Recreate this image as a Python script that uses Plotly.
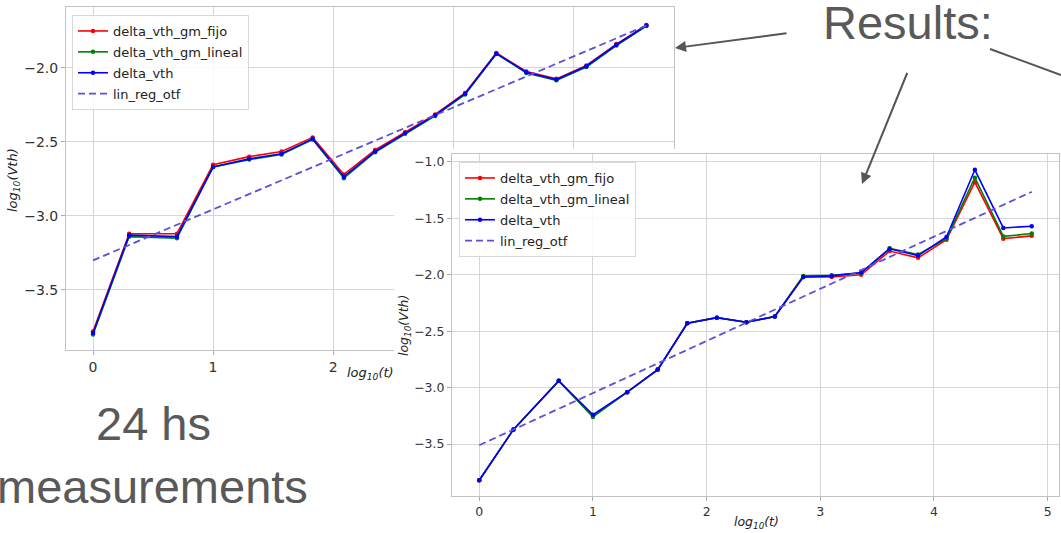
import plotly.graph_objects as go

W, H = 1061, 533

# ---------------- data ----------------
log_t = [0.0, 0.301, 0.699, 1.0, 1.301, 1.57, 1.83, 2.09, 2.35, 2.6,
         2.85, 3.1, 3.36, 3.61, 3.86, 4.11, 4.36, 4.61, 4.86]

# chart 1 (24 hs, first 18 samples)
c1_fijo   = [-3.78, -3.12, -3.12, -2.655, -2.60, -2.565, -2.47, -2.72, -2.555, -2.435,
             -2.315, -2.17, -1.90, -2.025, -2.075, -1.985, -1.84, -1.712]
c1_lineal = [-3.80, -3.14, -3.15, -2.67, -2.62, -2.585, -2.485, -2.745, -2.57, -2.445,
             -2.325, -2.18, -1.905, -2.035, -2.085, -1.995, -1.85, -1.718]
c1_vth    = [-3.79, -3.13, -3.14, -2.67, -2.615, -2.58, -2.48, -2.735, -2.565, -2.44,
             -2.32, -2.175, -1.905, -2.03, -2.08, -1.99, -1.845, -1.715]
c1_reg_x = [0.0, 4.61]
c1_reg_y = [-3.30, -1.715]

# chart 2 (all 19 samples)
c2_fijo   = [-3.82, -3.37, -2.94, -3.25, -3.04, -2.84, -2.43, -2.38, -2.42, -2.37,
             -2.02, -2.02, -2.00, -1.79, -1.85, -1.69, -1.18, -1.68, -1.655]
c2_lineal = [-3.82, -3.37, -2.94, -3.26, -3.04, -2.84, -2.43, -2.38, -2.42, -2.37,
             -2.01, -2.005, -1.985, -1.765, -1.82, -1.68, -1.14, -1.66, -1.635]
c2_vth    = [-3.82, -3.37, -2.94, -3.24, -3.04, -2.84, -2.43, -2.38, -2.42, -2.37,
             -2.02, -2.01, -1.98, -1.77, -1.83, -1.665, -1.07, -1.585, -1.57]
c2_reg_x = [0.0, 4.86]
c2_reg_y = [-3.51, -1.265]

series_names = ["delta_vth_gm_fijo", "delta_vth_gm_lineal", "delta_vth", "lin_reg_otf"]
series_colors = ["#ff0000", "#008000", "#0000ff", "#5b50d6"]

x1_range = [-0.225, 4.84]
y1_range = [-3.905, -1.59]
x2_range = [-0.24, 5.10]
y2_range = [-3.96, -0.93]

# ---------------- helpers ----------------
def px_x(p):
    return p / W

def px_y(p):
    return 1 - p / H

fig = go.Figure()

def add_chart(xa, ya, leg, prefix, series, n, reg_x, reg_y):
    for name, color, ys in zip(series_names[:3], series_colors[:3], series):
        fig.add_trace(go.Scatter(
            x=log_t[:n], y=ys, mode="lines+markers", name=name,
            line=dict(color=color, width=1.6),
            marker=dict(color=color, size=4.5),
            xaxis=xa, yaxis=ya, legend=leg, legendgroup=prefix + name,
        ))
    fig.add_trace(go.Scatter(
        x=reg_x, y=reg_y, mode="lines", name=series_names[3],
        line=dict(color=series_colors[3], width=1.8, dash="7px,4px"),
        xaxis=xa, yaxis=ya, legend=leg, legendgroup=prefix + series_names[3],
    ))

add_chart("x", "y", "legend", "c1_", [c1_fijo, c1_lineal, c1_vth], 18, c1_reg_x, c1_reg_y)

# white panel of the second screenshot, drawn in its own subplot layer
fig.add_trace(go.Scatter(
    x=[0, 1, 1, 0, 0], y=[0, 0, 1, 1, 0], mode="lines", fill="toself",
    fillcolor="white", line=dict(width=0, color="white"),
    hoverinfo="skip", showlegend=False, xaxis="x2", yaxis="y2",
))

add_chart("x3", "y3", "legend2", "c2_", [c2_fijo, c2_lineal, c2_vth], 19, c2_reg_x, c2_reg_y)

grid = "#d6d6d6"
spine = "#c2c2c2"
tickc = "#333333"

def axis(domain, rng, dtick, anchor, fs, fmt=None):
    d = dict(domain=domain, range=rng, dtick=dtick, tick0=0, anchor=anchor,
             showgrid=True, gridcolor=grid, gridwidth=1, zeroline=False,
             showline=True, mirror=True, linecolor=spine, linewidth=1,
             ticks="outside", ticklen=4, tickcolor="#aaaaaa",
             tickfont=dict(family="DejaVu Sans", size=fs, color=tickc),
             fixedrange=True)
    if fmt:
        d["tickformat"] = fmt
    return d

legend_common = dict(
    xanchor="left", yanchor="top", bgcolor="rgba(255,255,255,0.85)",
    bordercolor="#d8d8d8", borderwidth=1, traceorder="grouped", tracegroupgap=1,
    font=dict(family="DejaVu Sans", size=13, color="#222222"),
)

fig.update_layout(
    width=W, height=H, margin=dict(l=0, r=0, t=0, b=0),
    paper_bgcolor="white", plot_bgcolor="white", showlegend=True,
    xaxis=axis([px_x(66), px_x(674)], x1_range, 1, "y", 14),
    yaxis=axis([px_y(350), px_y(7)], y1_range, 0.5, "x", 14, ".1f"),
    xaxis2=dict(domain=[px_x(394), 1], range=[0, 1], visible=False, anchor="y2", fixedrange=True),
    yaxis2=dict(domain=[0, px_y(149)], range=[0, 1], visible=False, anchor="x2", fixedrange=True),
    xaxis3=axis([px_x(452), px_x(1059)], x2_range, 1, "y3", 12.5),
    yaxis3=axis([px_y(496), px_y(154)], y2_range, 0.5, "x3", 12.5, ".1f"),
    legend=dict(x=px_x(72), y=px_y(15), **legend_common),
    legend2=dict(x=px_x(459), y=px_y(162), **legend_common),
)

grey = "#595959"
ann = []
def text(s, x, y, size, color=grey, family="Liberation Sans", angle=0):
    ann.append(dict(text=s, x=px_x(x), y=px_y(y), xref="paper", yref="paper",
                    showarrow=False, xanchor="center", yanchor="middle",
                    textangle=angle, font=dict(family=family, size=size, color=color)))

text("Results:", 908, 22, 47)
text("24 hs", 153, 423, 47)
text("measurements", 152, 486, 47)

axis_title_font = "DejaVu Sans"
text("<i>log<sub>10</sub>(Vth)</i>", 13, 180, 13, color="#222222", family=axis_title_font, angle=-90)
text("<i>log<sub>10</sub>(t)</i>", 370, 373, 13, color="#222222", family=axis_title_font)
text("<i>log<sub>10</sub>(Vth)</i>", 404, 326, 12.5, color="#222222", family=axis_title_font, angle=-90)
text("<i>log<sub>10</sub>(t)</i>", 756, 522, 12.5, color="#222222", family=axis_title_font)

def arrow(hx, hy, tx, ty):
    ann.append(dict(text=" ", x=px_x(hx), y=px_y(hy), xref="paper", yref="paper",
                    ax=tx - hx, ay=ty - hy, axref="pixel", ayref="pixel",
                    showarrow=True, arrowhead=2, arrowsize=1.1, arrowwidth=2,
                    arrowcolor="#555555", standoff=0, startstandoff=0,
                    font=dict(size=1)))

arrow(675, 48, 788, 33)
arrow(862, 184, 908, 71)

fig.update_layout(annotations=ann)
fig.add_shape(type="line", xref="paper", yref="paper",
              x0=px_x(990), y0=px_y(49), x1=1, y1=px_y(75),
              line=dict(color="#555555", width=2))

fig.write_html("out.html")
